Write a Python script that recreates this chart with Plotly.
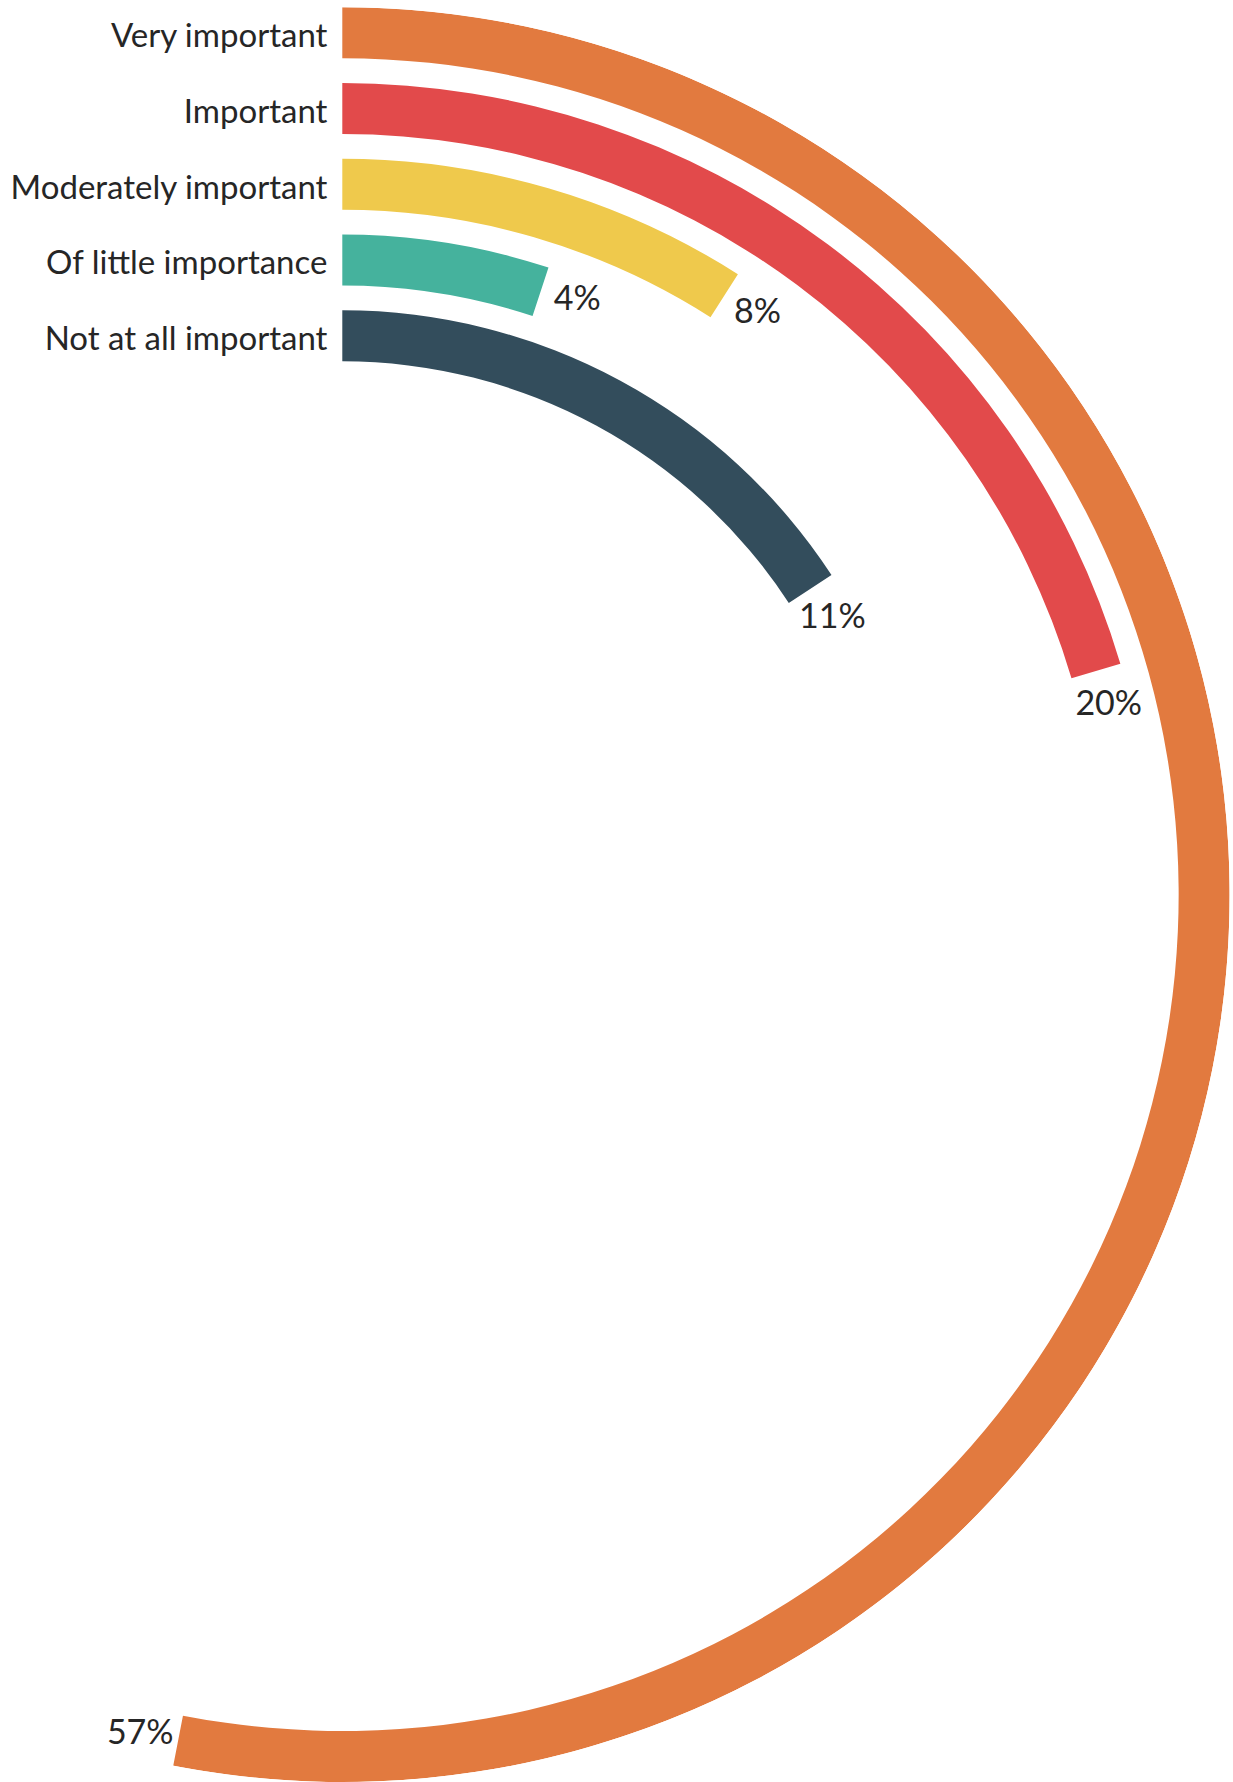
import math
import plotly.graph_objects as go

# ---- data ----
categories = ["Very important", "Important", "Moderately important",
              "Of little importance", "Not at all important"]
values = [57, 20, 8, 4, 11]
value_labels = ["57%", "20%", "8%", "4%", "11%"]
colors = ["#E27A3F", "#E24A4B", "#EFC94C", "#45B29D", "#334D5C"]

# ---- geometry / style ----
W, H = 1233, 1782
R = 887.35            # outer radius (radial axis units == px)
CX, CY = 342.3, 894.65
RING_PITCH = 75.75
RING_WIDTH = 51.0
ARC_PER_PCT = 50.4    # arc length per percentage point at ring centre
SECTOR = [-110, 94]
TEXT = "#262626"
FONT = "Lato"

outer = [R - i * RING_PITCH for i in range(len(categories))]
base = [o - RING_WIDTH for o in outer]
mid = [o - RING_WIDTH / 2 for o in outer]
span_deg = [math.degrees(v * ARC_PER_PCT / m) for v, m in zip(values, mid)]

fig = go.Figure()
for i, cat in enumerate(categories):
    fig.add_trace(go.Barpolar(
        r=[RING_WIDTH], base=[base[i]], theta=[span_deg[i] / 2], width=[span_deg[i]],
        marker=dict(color=colors[i], line=dict(width=0)),
        name=cat, hoverinfo="skip", showlegend=False))

# category labels at the start of each ring
fig.add_trace(go.Scatterpolar(
    r=[m - 6 for m in mid],
    theta=[-math.degrees(15 / m) for m in mid],
    mode="text", text=categories, textposition="middle left",
    textfont=dict(family=FONT, size=33, color=TEXT),
    cliponaxis=False, hoverinfo="skip", showlegend=False))

# value labels just past the end of each ring
fig.add_trace(go.Scatterpolar(
    r=[m + 3 for m in mid],
    theta=[s + math.degrees(38 / m) for s, m in zip(span_deg, mid)],
    mode="text", text=value_labels, textposition="middle center",
    textfont=dict(family=FONT, size=34, color=TEXT),
    cliponaxis=False, hoverinfo="skip", showlegend=False))

bx0 = min(math.cos(math.radians(SECTOR[0] % 360)), math.cos(math.radians(SECTOR[1])))
fig.update_layout(
    width=W, height=H, margin=dict(l=0, r=0, t=0, b=0),
    paper_bgcolor="white", plot_bgcolor="white", showlegend=False,
    polar=dict(
        domain=dict(x=[(CX + bx0 * R) / W, (CX + R) / W], y=[0, 1 - (CY - R) / H]),
        sector=SECTOR, hole=0, bgcolor="white", barmode="overlay",
        radialaxis=dict(range=[0, R], visible=False, showgrid=False),
        angularaxis=dict(rotation=90, direction="clockwise", visible=False, showgrid=False),
    ),
)

fig.write_html("out.html", config={"displayModeBar": False},
               post_script="document.body.style.margin='0';")
